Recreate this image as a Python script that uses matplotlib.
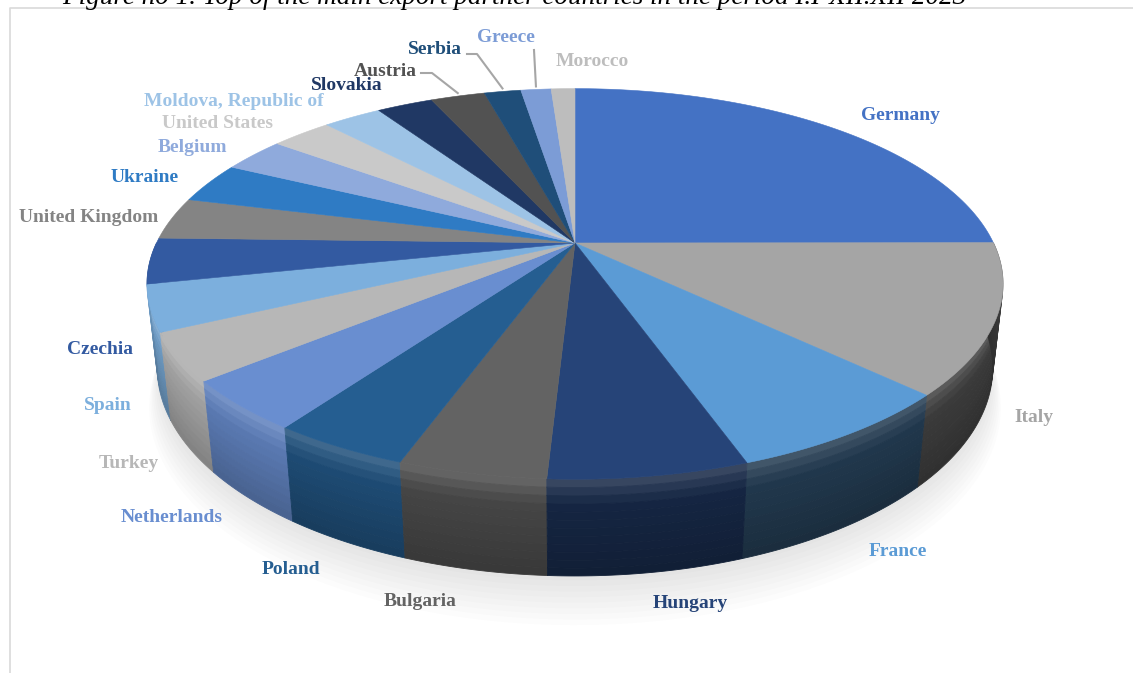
import numpy as np
import matplotlib.pyplot as plt
from matplotlib.collections import PolyCollection
from matplotlib.colors import to_rgb

# export partners, clockwise from 12 o'clock (share of exports, %)
countries = ["Germany", "Italy", "France", "Hungary", "Bulgaria", "Poland",
             "Netherlands", "Turkey", "Spain", "Czechia", "United Kingdom",
             "Ukraine", "Belgium", "United States", "Moldova, Republic of",
             "Slovakia", "Austria", "Serbia", "Greece", "Morocco"]
shares = [25.0, 12.3, 7.4, 6.2, 4.6, 4.3, 4.2, 3.9, 3.8, 3.8, 3.5,
          3.4, 2.9, 2.8, 2.7, 2.6, 2.5, 1.7, 1.4, 1.1]
colors = ["#4472C4", "#A5A5A5", "#5B9BD5", "#264478", "#636363", "#255E91",
          "#698ED0", "#B7B7B7", "#7CAFDD", "#335AA1", "#848484", "#2F7BC4",
          "#8FAADC", "#C9C9C9", "#9DC3E6", "#203864", "#525252", "#1F4E79",
          "#7C9CD6", "#BDBDBD"]

# where excel put the data labels (pixels)
label_xy = [(900, 115), (1034, 418), (898, 551), (690, 604), (420, 602),
            (291, 570), (172, 517), (129, 463), (108, 406), (100, 349),
            (89, 217), (145, 178), (192, 148), (217, 124), (234, 101),
            (347, 85), (385, 72), (435, 50), (506, 38), (592, 62)]
leaders = {"Austria": [(421, 73), (432, 73)],
           "Serbia": [(467, 54), (477, 54)],
           "Greece": [(534, 50)]}

title = "Figure no 1. Top of the main export partner countries in the period I.I-XII.XII 2023"

W, H = 1133, 673
fig = plt.figure(figsize=(W / 100, H / 100), dpi=100)
ax = fig.add_axes([0, 0, 1, 1])
ax.set_xlim(0, W)
ax.set_ylim(H, 0)
ax.axis("off")

# chart frame
ax.plot([10, 10, W], [H, 8, 8], color="#d9d9d9", lw=1.2, zorder=0)

# perspective view of the pie (radius 1, thickness T)
CX, CY, F, D = 575, 243, 1787, 4.27
ALPHA = np.radians(26.5)
T = 0.225


def proj(r, phi, z=0.0):
    X = r * np.cos(phi)
    Y = r * np.sin(phi)
    up = Y * np.sin(ALPHA) + z * np.cos(ALPHA)
    depth = D + Y * np.cos(ALPHA) - z * np.sin(ALPHA)
    return CX + F * X / depth, CY - F * up / depth


def shade(c, k, white=0.0):
    rgb = np.array(to_rgb(c)) * k
    rgb = rgb * (1 - white) + white
    return tuple(np.clip(rgb, 0, 1))


frac = np.array(shares) / np.sum(shares)
bounds = np.radians(90 - 360 * np.concatenate([[0], np.cumsum(frac)]))
starts, ends = bounds[:-1], bounds[1:]

# soft shadow under the pie
ring = np.linspace(0, 2 * np.pi, 300)
for k in range(10):
    x, y = proj(0.99 + 0.004 * k, ring, -T - 0.008 * k)
    ax.fill(x, y + 2 + k, color="#909090", alpha=0.022, lw=0, zorder=1)

# side walls, front half only, far pieces first
segs = []
for i in range(len(shares)):
    lo, hi = max(ends[i], -np.pi), min(starts[i], 0.0)
    if hi > lo:
        segs.append((i, lo, hi))
segs.sort(key=lambda s: -np.sin((s[1] + s[2]) / 2))

nb = 12
for i, lo, hi in segs:
    phi = np.linspace(lo, hi, 60)
    mid = (lo + hi) / 2
    k = 0.38 + 0.55 * max(0.0, np.cos(mid + np.radians(150)))
    polys, cols = [], []
    for b in range(nb):
        z0, z1 = -T * b / nb, -T * (b + 1) / nb
        x0, y0 = proj(1, phi, z0)
        x1, y1 = proj(1, phi, z1)
        polys.append(np.column_stack([np.r_[x0, x1[::-1]], np.r_[y0, y1[::-1]]]))
        wh = [0.14, 0.08, 0.03][b] if b < 3 else 0.0
        cols.append(shade(colors[i], k * (1.0 - 0.25 * b / nb), wh))
    ax.add_collection(PolyCollection(polys, facecolors=cols, edgecolors=cols,
                                     linewidths=0.6, zorder=2))

# top face
for i in range(len(shares)):
    phi = np.linspace(starts[i], ends[i], 80)
    x, y = proj(1, phi, 0)
    ax.fill(np.r_[CX, x], np.r_[CY, y], color=colors[i], ec=colors[i],
            lw=0.4, zorder=3)

# data labels
for name, (lx, ly), c in zip(countries, label_xy, colors):
    ax.text(lx, ly, name, color=c, ha="center", va="center", fontsize=14,
            fontweight="bold", family="Liberation Serif", zorder=5)

# leader lines for the small slices
mids = (starts + ends) / 2
for name, pts in leaders.items():
    i = countries.index(name)
    rx, ry = proj(1.0, mids[i], 0)
    xs = [p[0] for p in pts] + [rx]
    ys = [p[1] for p in pts] + [ry - 3]
    ax.plot(xs, ys, color="#a6a6a6", lw=1.5, zorder=5)

# caption, cut off by the top edge like in the source
ax.text(62, 4, title, ha="left", va="baseline", fontsize=19.5,
        fontstyle="italic", family="Liberation Serif", color="black")

fig.savefig("out.png", dpi=100)
